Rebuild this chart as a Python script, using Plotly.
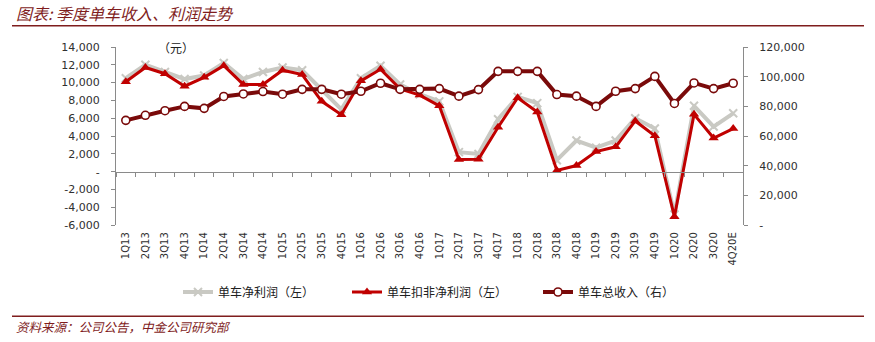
import plotly.graph_objects as go

quarters = ["1Q13","2Q13","3Q13","4Q13","1Q14","2Q14","3Q14","4Q14",
            "1Q15","2Q15","3Q15","4Q15","1Q16","2Q16","3Q16","4Q16",
            "1Q17","2Q17","3Q17","4Q17","1Q18","2Q18","3Q18","4Q18",
            "1Q19","2Q19","3Q19","4Q19","1Q20","2Q20","3Q20","4Q20E"]

net_profit = [10500, 12000, 11200, 10400, 10800, 12200, 10400, 11200,
              11700, 11400, 9200, 7000, 10500, 11900, 9800, 8700,
              7900, 2200, 2000, 5900, 8400, 7700, 1300, 3500,
              2700, 3500, 6000, 4850, -4800, 7400, 5070, 6560]

net_profit_adj = [10100, 11700, 11000, 9600, 10600, 11900, 9800, 9800,
                  11400, 10900, 7900, 6400, 10200, 11500, 9300, 8600,
                  7400, 1370, 1400, 5000, 8300, 6700, 150, 700,
                  2260, 2800, 5700, 4040, -5040, 6440, 3780, 4850]

revenue = [70600, 74000, 77100, 80000, 78700, 86700, 88400, 90000,
           88200, 91500, 91500, 88200, 90200, 95600, 91500, 91500,
           92000, 86900, 91300, 103600, 103600, 103600, 88000, 86900,
           80000, 90200, 92000, 100200, 82000, 95800, 92000, 95600]

left_ticks = list(range(-6000, 14001, 2000))
right_ticks = list(range(0, 120001, 20000))

def fmt(v):
    return "-" if v == 0 else f"{v:,}"

GRAY = "#c9c9c3"
RED = "#c00000"
DARK = "#7a0a0a"
AXIS = "#8a8a8a"
TXT = "#303030"
TITLE = "#7f1d1d"

W, H = 875, 342
L, R, T, B = 116, 132, 47, 115
PW, PH = W - L - R, H - T - B

def px_x(p):
    return (p - L) / PW

def px_y(p):
    return (H - B - p) / PH

idx = list(range(len(quarters)))

fig = go.Figure()
fig.add_trace(go.Scatter(
    x=idx, y=net_profit, name="单车净利润（左）", mode="lines+markers",
    line=dict(color=GRAY, width=4),
    marker=dict(symbol="x-thin", size=8, line=dict(color=GRAY, width=2), color=GRAY),
    legend="legend"))
fig.add_trace(go.Scatter(
    x=idx, y=net_profit_adj, name="单车扣非净利润（左）", mode="lines+markers",
    line=dict(color=RED, width=3),
    marker=dict(symbol="triangle-up", size=9, color=RED),
    legend="legend2"))
fig.add_trace(go.Scatter(
    x=idx, y=revenue, name="单车总收入（右）", mode="lines+markers",
    yaxis="y2",
    line=dict(color=DARK, width=4),
    marker=dict(symbol="circle", size=8, color="white", line=dict(color=DARK, width=1.6)),
    legend="legend3"))
# carrier for the zero-line axis
fig.add_trace(go.Scatter(x=[None], y=[None], xaxis="x2", yaxis="y",
                         showlegend=False, hoverinfo="skip"))

boundaries = [i - 0.5 for i in range(len(quarters) + 1)]

fig.update_layout(
    width=W, height=H,
    margin=dict(l=L, r=R, t=T, b=B),
    plot_bgcolor="white", paper_bgcolor="white",
    font=dict(family="DejaVu Sans", color=TXT),
    xaxis=dict(
        range=[-0.5, len(quarters) - 0.5], tickmode="array",
        tickvals=idx, ticktext=quarters, tickangle=-90,
        tickfont=dict(size=10, family="DejaVu Sans", color=TXT),
        showline=False, showgrid=False, zeroline=False, ticks="",
        ticklabelstandoff=4,
    ),
    xaxis2=dict(
        overlaying="x", anchor="free",
        position=(0 - left_ticks[0]) / (left_ticks[-1] - left_ticks[0]),
        range=[-0.5, len(quarters) - 0.5], tickmode="array",
        tickvals=boundaries, showticklabels=False,
        ticks="outside", ticklen=4, tickcolor=AXIS,
        showline=True, linecolor=AXIS, linewidth=1,
        showgrid=False, zeroline=False,
    ),
    yaxis=dict(
        range=[left_ticks[0], left_ticks[-1]], tickmode="array",
        tickvals=left_ticks, ticktext=[fmt(v) for v in left_ticks],
        tickfont=dict(size=11, family="DejaVu Sans", color=TXT),
        ticks="outside", ticklen=4, tickcolor=AXIS,
        showline=True, linecolor=AXIS, linewidth=1,
        showgrid=False, zeroline=False, ticklabelstandoff=9,
    ),
    yaxis2=dict(
        range=[right_ticks[0], right_ticks[-1]], overlaying="y", side="right",
        tickmode="array", tickvals=right_ticks, ticktext=[fmt(v) for v in right_ticks],
        tickfont=dict(size=11, family="DejaVu Sans", color=TXT),
        ticks="outside", ticklen=4, tickcolor=AXIS,
        showline=True, linecolor=AXIS, linewidth=1,
        showgrid=False, zeroline=False, ticklabelstandoff=9,
    ),
    showlegend=True,
)

leg_common = dict(orientation="h", xref="container", yref="container",
                  xanchor="left", yanchor="middle", y=1 - 292 / H,
                  bgcolor="rgba(0,0,0,0)",
                  font=dict(size=12, family="Noto Sans CJK SC", color="#202020"))
fig.update_layout(
    legend=dict(x=178 / W, **leg_common),
    legend2=dict(x=347 / W, **leg_common),
    legend3=dict(x=538 / W, **leg_common),
)

cjk = "Noto Sans CJK SC"
fig.add_annotation(text="<i>图表: 季度单车收入、利润走势</i>", xref="paper", yref="paper",
                   x=px_x(14), y=px_y(13), xanchor="left", yanchor="middle",
                   showarrow=False, font=dict(size=16, family=cjk, color=TITLE))
fig.add_annotation(text="<i>资料来源：公司公告，中金公司研究部</i>", xref="paper", yref="paper",
                   x=px_x(14), y=px_y(329), xanchor="left", yanchor="middle",
                   showarrow=False, font=dict(size=12.5, family=cjk, color=TITLE))
fig.add_annotation(text="（元）", xref="paper", yref="paper",
                   x=px_x(156), y=px_y(48), xanchor="left", yanchor="middle",
                   showarrow=False, font=dict(size=12, family=cjk, color="#202020"))

for yy in (25.5, 319):
    fig.add_shape(type="line", xref="paper", yref="paper",
                  x0=px_x(12), x1=px_x(864), y0=px_y(yy), y1=px_y(yy),
                  line=dict(color=TITLE, width=1.5))

fig.write_html("out.html")
